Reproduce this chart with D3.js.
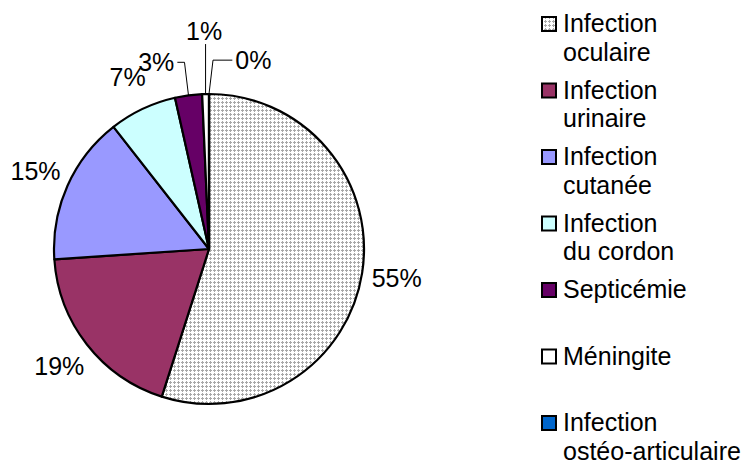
<!DOCTYPE html>
<html>
<head>
<meta charset="utf-8">
<script src="https://cdn.jsdelivr.net/npm/d3@7"></script>
<style>
  body { margin: 0; background: white; }
  svg { display: block; font-family: "Liberation Sans", Arial, sans-serif; }
</style>
</head>
<body>
<svg width="744" height="464"></svg>
<script>
// I. Données
let categories = ["Infection oculaire", "Infection urinaire", "Infection cutanée",
    "Infection du cordon", "Septicémie", "Méningite", "Infection ostéo-articulaire"];

// libellés de la légende (une ligne par élément)
let lignesLegende = [["Infection", "oculaire"], ["Infection", "urinaire"], ["Infection", "cutanée"],
    ["Infection", "du cordon"], ["Septicémie"], ["Méningite"], ["Infection", "ostéo-articulaire"]];

// effectifs estimés (pourcentages affichés : 55, 19, 15, 7, 3, 1, 0)
let effectifs = [78, 27, 22, 10, 4, 1, 0];

let couleurs = ["url(#grille)", "#993366", "#9999ff", "#ccffff", "#660066", "#ffffff", "#0066cc"];

// II. Dessin
let svg = d3.select("svg");

svg.append("rect")
    .attr("width", 744)
    .attr("height", 464)
    .attr("fill", "white");

// motif pointillé pour l'infection oculaire
let motif = svg.append("defs").append("pattern")
    .attr("id", "grille")
    .attr("width", 4)
    .attr("height", 4)
    .attr("patternUnits", "userSpaceOnUse");
motif.append("rect").attr("width", 4).attr("height", 4).attr("fill", "white");
motif.append("rect").attr("x", 1).attr("y", 0).attr("width", 1).attr("height", 3).attr("fill", "#a8a8a8");
motif.append("rect").attr("x", 0).attr("y", 1).attr("width", 3).attr("height", 1).attr("fill", "#a8a8a8");

let cx = 209, cy = 249, rayon = 155;
let taille = 25;
let total = d3.sum(effectifs);

let camembert = d3.pie().sort(null).value(d => d);
let parts = camembert(effectifs);

let arc = d3.arc().innerRadius(0).outerRadius(rayon);
let arcLabel = d3.arc().innerRadius(190).outerRadius(190);

let couche = svg.append("g").attr("transform", `translate(${cx},${cy})`);

couche.selectAll("path.part")
    .data(parts)
    .enter()
    .append("path")
    .attr("class", "part")
    .attr("d", arc)
    .attr("fill", (d, i) => couleurs[i])
    .attr("stroke", "black")
    .attr("stroke-width", 2.2)
    .attr("stroke-linejoin", "round");

function pourcent(v) {
    return Math.round(v / total * 100) + "%";
}

function pointAngle(a, r) {
    return [r * Math.sin(a), -r * Math.cos(a)];
}

// a) étiquettes des grandes parts
parts.filter(d => d.value / total >= 0.05).forEach(function (d) {
    let c = arcLabel.centroid(d);
    couche.append("text")
        .attr("x", c[0])
        .attr("y", c[1])
        .attr("dy", "0.35em")
        .attr("text-anchor", "middle")
        .attr("font-size", taille)
        .attr("fill", "black")
        .text(pourcent(d.value));
});

// b) petites parts : étiquettes écartées avec trait de rappel
let petites = parts.filter(d => d.value / total < 0.05);
let milieu = Math.floor(petites.length / 2);
let angleCentre = (petites[milieu].startAngle + petites[milieu].endAngle) / 2;
let ecart = 14.5 * Math.PI / 180;

petites.forEach(function (d, i) {
    let a = angleCentre + (i - milieu) * ecart;
    let r = i === milieu ? 218 : 194;
    let l = pointAngle(a, r);
    let texte = couche.append("text")
        .attr("x", l[0])
        .attr("y", l[1])
        .attr("dy", "0.35em")
        .attr("text-anchor", "middle")
        .attr("font-size", taille)
        .attr("fill", "black")
        .text(pourcent(d.value));

    let demi = texte.node().getComputedTextLength() / 2;
    let p = pointAngle((d.startAngle + d.endAngle) / 2, rayon);
    let trace;
    if (Math.abs(l[0] - p[0]) < demi) {
        trace = [[p[0], l[1] + 13], [p[0], p[1]]];
    } else {
        let sens = l[0] < p[0] ? -1 : 1;
        trace = [[l[0] - sens * (demi + 3), l[1]], [p[0] + sens * 4, l[1]], [p[0], p[1]]];
    }
    couche.append("path")
        .attr("d", d3.line()(trace))
        .attr("fill", "none")
        .attr("stroke", "black")
        .attr("stroke-width", 1);
});

// c) légende
let xLegende = 541, yLegende = 32, pas = 66.5, interligne = 28.5;

let legende = svg.append("g");

lignesLegende.forEach(function (lignes, i) {
    let y = yLegende + i * pas;
    legende.append("rect")
        .attr("x", xLegende + 1)
        .attr("y", y - 15)
        .attr("width", 14)
        .attr("height", 14)
        .attr("fill", couleurs[i])
        .attr("stroke", "black")
        .attr("stroke-width", 2);

    let t = legende.append("text")
        .attr("x", xLegende + 22)
        .attr("y", y)
        .attr("font-size", taille)
        .attr("fill", "black");
    lignes.forEach(function (ligne, j) {
        t.append("tspan")
            .attr("x", xLegende + 22)
            .attr("dy", j === 0 ? 0 : interligne)
            .text(ligne);
    });
});
</script>
</body>
</html>
